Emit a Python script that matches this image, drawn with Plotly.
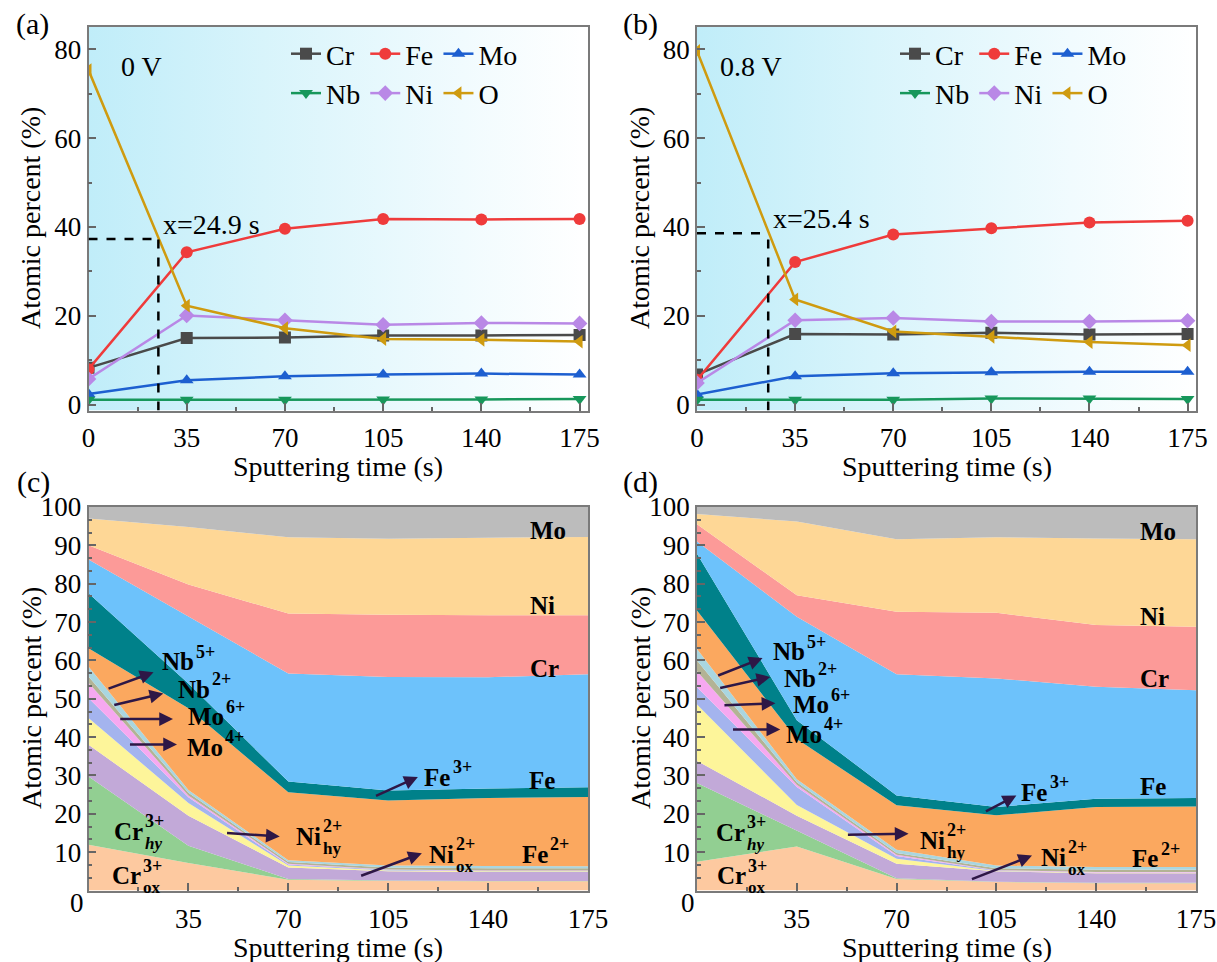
import plotly.graph_objects as go

W, H = 1217, 962
SERIF = "Liberation Serif, Times New Roman, serif"

# ---------------- data ----------------
time_s = [0, 35, 70, 105, 140, 175]

# (a) 0 V : element depth profiles, at.%
a_cr = [8.3, 15.0, 15.1, 15.6, 15.6, 15.7]
a_fe = [8.0, 34.3, 39.6, 41.8, 41.7, 41.8]
a_mo = [2.4, 5.5, 6.4, 6.8, 7.0, 6.8]
a_nb = [1.1, 1.1, 1.1, 1.2, 1.2, 1.3]
a_ni = [5.8, 20.1, 19.0, 18.0, 18.4, 18.3]
a_o = [75.3, 22.3, 17.2, 14.8, 14.6, 14.2]

# (b) 0.8 V
b_cr = [6.8, 15.9, 15.8, 16.2, 15.8, 15.9]
b_fe = [5.6, 32.1, 38.3, 39.7, 41.0, 41.4]
b_mo = [2.3, 6.4, 7.1, 7.3, 7.4, 7.4]
b_nb = [1.1, 1.1, 1.1, 1.4, 1.4, 1.3]
b_ni = [4.9, 19.0, 19.5, 18.7, 18.7, 18.9]
b_o = [79.6, 23.7, 16.5, 15.3, 14.1, 13.4]

# film thickness markers (time, O level)
cross_a = (24.9, 37.3)
cross_b = (25.4, 38.6)

# (c) 0 V : chemical-state fractions, at.% (stacked bottom -> top)
c_cr_ox = [11.9, 7.2, 2.8, 2.5, 2.4, 2.4]
c_cr_hy = [17.8, 4.5, 0.2, 0.1, 0.1, 0.1]
c_ni_ox = [8.3, 7.8, 3.0, 2.4, 2.3, 2.3]
c_ni_hy = [7.0, 3.3, 0.5, 0.2, 0.2, 0.2]
c_mo4 = [5.2, 1.5, 0.3, 0.2, 0.1, 0.1]
c_mo6 = [4.0, 0.5, 0.2, 0.1, 0.1, 0.1]
c_nb2 = [1.6, 0.7, 0.4, 0.5, 0.6, 0.6]
c_nb5 = [2.6, 0.7, 0.5, 0.5, 0.6, 0.5]
c_fe2 = [4.8, 21.3, 17.7, 17.0, 17.7, 18.1]
c_fe3 = [14.3, 6.5, 2.8, 2.6, 2.5, 2.5]
c_fe0 = [8.8, 17.5, 28.2, 29.6, 29.0, 29.5]
c_cr0 = [3.7, 8.3, 15.6, 16.2, 16.2, 15.4]
c_ni0 = [7.0, 15.0, 19.9, 19.8, 20.2, 20.4]
c_mo0 = [3.0, 5.2, 7.9, 8.3, 8.0, 7.8]

# (d) 0.8 V
d_cr_ox = [7.5, 11.5, 3.0, 2.2, 1.9, 1.9]
d_cr_hy = [20.5, 4.0, 0.2, 0.1, 0.1, 0.1]
d_ni_ox = [5.8, 4.0, 3.8, 2.7, 2.5, 2.5]
d_ni_hy = [14.7, 2.8, 1.3, 0.1, 0.1, 0.1]
d_mo4 = [4.5, 4.7, 0.7, 0.1, 0.1, 0.1]
d_mo6 = [4.2, 0.6, 0.3, 0.1, 0.1, 0.1]
d_nb2 = [2.8, 0.6, 0.5, 0.5, 0.6, 0.6]
d_nb5 = [3.0, 0.8, 0.8, 0.7, 0.7, 0.7]
d_fe2 = [10.0, 10.5, 11.6, 13.1, 15.7, 15.8]
d_fe3 = [14.8, 4.9, 2.6, 2.2, 2.1, 2.2]
d_fe0 = [3.2, 27.0, 31.6, 33.5, 29.2, 28.1]
d_cr0 = [4.5, 5.6, 16.3, 17.1, 16.1, 16.6]
d_ni0 = [2.7, 19.2, 18.9, 19.7, 22.6, 22.8]
d_mo0 = [1.8, 3.8, 8.4, 7.9, 8.2, 8.4]

elements = ["Cr", "Fe", "Mo", "Nb", "Ni", "O"]
el_colors = ["#4a4a4a", "#ef3b3b", "#1d5fd0", "#17975b", "#b988e6", "#cf9b10"]
el_symbols = ["square", "circle", "triangle-up", "triangle-down", "diamond", "triangle-left"]

state_names = ["Cr_ox3+", "Cr_hy3+", "Ni_ox2+", "Ni_hy2+", "Mo4+", "Mo6+", "Nb2+", "Nb5+",
               "Fe2+", "Fe3+", "Fe", "Cr", "Ni", "Mo"]
state_colors = ["#fdc9a0", "#92cf92", "#c2a9d8", "#fdf59a", "#a4b4ee", "#f6a8f0", "#b3b395",
                "#a9d6e0", "#fba85f", "#00818a", "#6dc2fb", "#fc9a98", "#fed796", "#bcbcbc"]
c_layers = [c_cr_ox, c_cr_hy, c_ni_ox, c_ni_hy, c_mo4, c_mo6, c_nb2, c_nb5,
            c_fe2, c_fe3, c_fe0, c_cr0, c_ni0, c_mo0]
d_layers = [d_cr_ox, d_cr_hy, d_ni_ox, d_ni_hy, d_mo4, d_mo6, d_nb2, d_nb5,
            d_fe2, d_fe3, d_fe0, d_cr0, d_ni0, d_mo0]

# ---------------- geometry ----------------
def px(x):
    return x / W


def py(y):
    return 1 - y / H


TOP_Y = [-1.3, 85]
TOP_X = [0, 178]
dom_x_left = [px(88.5), px(588)]
dom_x_right = [px(697), px(1196)]
dom_y_top = [py(410.5), py(27)]
dom_y_bot = [py(890.5), py(507)]

fig = go.Figure()

# gradient backdrop of the upper panels
for xa, ya in [("x", "y"), ("x2", "y2")]:
    fig.add_trace(go.Scatter(
        x=[TOP_X[0], TOP_X[1], TOP_X[1], TOP_X[0], TOP_X[0]],
        y=[TOP_Y[0], TOP_Y[0], TOP_Y[1], TOP_Y[1], TOP_Y[0]],
        fill="toself", mode="lines", line=dict(width=0),
        fillgradient=dict(type="horizontal",
                          colorscale=[[0, "#c0edf9"], [0.35, "#d8f4fb"],
                                      [0.75, "#f1fbfe"], [1, "#ffffff"]]),
        hoverinfo="skip", showlegend=False, xaxis=xa, yaxis=ya))

# element profiles
groups = ["g1", "g2", "g3", "g1", "g2", "g3"]
for series, xa, ya, leg, tag in [([a_cr, a_fe, a_mo, a_nb, a_ni, a_o], "x", "y", "legend", "a"),
                                 ([b_cr, b_fe, b_mo, b_nb, b_ni, b_o], "x2", "y2", "legend2", "b")]:
    for name, vals, col, sym, grp in zip(elements, series, el_colors, el_symbols, groups):
        fig.add_trace(go.Scatter(
            x=time_s, y=vals, name=name, mode="lines+markers",
            line=dict(color=col, width=2.5),
            marker=dict(symbol=sym, size=12, color=col),
            legend=leg, legendgroup=tag + grp, xaxis=xa, yaxis=ya))

# stacked chemical-state areas
for layers, xa, ya, sg in [(c_layers, "x3", "y3", "c"), (d_layers, "x4", "y4", "d")]:
    for name, vals, col in zip(state_names, layers, state_colors):
        fig.add_trace(go.Scatter(
            x=time_s, y=vals, name=name, mode="lines", stackgroup=sg,
            line=dict(width=0), fillcolor=col, showlegend=False,
            xaxis=xa, yaxis=ya))

# ---------------- axes ----------------
TICK_FONT = dict(family=SERIF, size=27, color="black")
common = dict(showline=True, linecolor="#7a7a7a", linewidth=1.5, mirror=True,
              showgrid=False, zeroline=False, ticks="inside", ticklen=8, tickwidth=1.5,
              tickcolor="#666", tickfont=TICK_FONT, automargin=False)
minor_x = dict(dtick=17.5, tick0=0, ticks="inside", ticklen=4, tickcolor="#666", showgrid=False)

top_xaxis = dict(common, range=TOP_X, tickvals=[0, 35, 70, 105, 140, 175],
                 minor=minor_x, ticklabelstandoff=2)
top_yaxis = dict(common, range=TOP_Y, tickvals=[0, 20, 40, 60, 80],
                 minor=dict(dtick=10, tick0=0, ticks="inside", ticklen=4, tickcolor="#666",
                            showgrid=False))
bot_xaxis = dict(common, range=[0, 175], tickvals=[35, 70, 105, 140, 175],
                 minor=minor_x, ticklabelstandoff=3)
bot_yaxis = dict(common, range=[0, 100], tickvals=list(range(10, 101, 10)),
                 minor=dict(dtick=10 / 3, tick0=0, ticks="inside", ticklen=4, tickcolor="#666",
                            showgrid=False))

LEG_FONT = dict(family=SERIF, size=28, color="black")
fig.update_layout(
    template="none",
    width=W, height=H, margin=dict(l=0, r=0, t=0, b=0, autoexpand=False), autosize=False,
    paper_bgcolor="white", plot_bgcolor="white",
    font=dict(family=SERIF, color="black"),
    xaxis=dict(top_xaxis, domain=dom_x_left, anchor="y"),
    yaxis=dict(top_yaxis, domain=dom_y_top, anchor="x"),
    xaxis2=dict(top_xaxis, domain=dom_x_right, anchor="y2"),
    yaxis2=dict(top_yaxis, domain=dom_y_top, anchor="x2"),
    xaxis3=dict(bot_xaxis, domain=dom_x_left, anchor="y3"),
    yaxis3=dict(bot_yaxis, domain=dom_y_bot, anchor="x3"),
    xaxis4=dict(bot_xaxis, domain=dom_x_right, anchor="y4"),
    yaxis4=dict(bot_yaxis, domain=dom_y_bot, anchor="x4"),
    legend=dict(x=px(286), y=py(29), xanchor="left", yanchor="top", orientation="h",
                traceorder="grouped", font=LEG_FONT, bgcolor="rgba(0,0,0,0)",
                borderwidth=0, itemwidth=30),
    legend2=dict(x=px(895), y=py(29), xanchor="left", yanchor="top", orientation="h",
                 traceorder="grouped", font=LEG_FONT, bgcolor="rgba(0,0,0,0)",
                 borderwidth=0, itemwidth=30),
    showlegend=True,
)

# ---------------- dashed guides ----------------
shapes = []
for (tx, ty), xr, yr in [(cross_a, "x", "y"), (cross_b, "x2", "y2")]:
    dash = dict(color="black", width=2.5, dash="dash")
    shapes.append(dict(type="line", xref=xr, yref=yr, x0=0, x1=tx, y0=ty, y1=ty, line=dash))
    shapes.append(dict(type="line", xref=xr, yref=yr, x0=tx, x1=tx, y0=TOP_Y[0], y1=ty, line=dash))
fig.update_layout(shapes=shapes)

# ---------------- text ----------------
anns = []


def paper_text(x, y, text, size=28, angle=0):
    anns.append(dict(x=px(x), y=py(y), xref="paper", yref="paper", text=text,
                     showarrow=False, textangle=angle, xanchor="center", yanchor="middle",
                     font=dict(family=SERIF, size=size, color="black")))


for cx in (31, 640):
    paper_text(cx, 218, "Atomic percent (%)", angle=-90)
    paper_text(cx, 698, "Atomic percent (%)", angle=-90)
for cx in (338, 946.5):
    paper_text(cx, 466, "Sputtering time (s)")
    paper_text(cx, 947, "Sputtering time (s)")
paper_text(32, 24, "(a)", size=30)
paper_text(640, 24, "(b)", size=30)
paper_text(33, 482, "(c)", size=30)
paper_text(640, 482, "(d)", size=30)
# shared origin label of the lower panels
paper_text(77, 903, "0", size=27)
paper_text(688, 903, "0", size=27)

for (tx, ty), xr, yr, volt, vx in [(cross_a, "x", "y", "0 V", 11.0),
                                   (cross_b, "x2", "y2", "0.8 V", 7.5)]:
    anns.append(dict(x=vx, y=76.2, xref=xr, yref=yr, text=volt, showarrow=False,
                     xanchor="left", yanchor="middle",
                     font=dict(family=SERIF, size=28, color="black")))
    anns.append(dict(x=tx + 1.0, y=ty + 3.2, xref=xr, yref=yr, text=f"x={tx} s",
                     showarrow=False, xanchor="left", yanchor="middle",
                     font=dict(family=SERIF, size=28, color="black")))

# Times-Bold advance widths (em) for label layout
CW = {"N": 0.722, "b": 0.556, "M": 0.944, "o": 0.5, "i": 0.278, "F": 0.611,
      "e": 0.444, "C": 0.722, "r": 0.444}
LBL = 25
SMALL = 17


def ion(xr, yr, x, y, base, sup=None, sub=None, italic_sub=False):
    w = sum(CW[ch] for ch in base) * LBL
    anns.append(dict(x=x, y=y, xref=xr, yref=yr, text=f"<b>{base}</b>", showarrow=False,
                     xanchor="left", yanchor="middle",
                     font=dict(family=SERIF, size=LBL, color="black")))
    if sup:
        anns.append(dict(x=x, y=y, xref=xr, yref=yr, text=f"<b>{sup}</b>", showarrow=False,
                         xanchor="left", yanchor="middle", xshift=w + 2, yshift=10,
                         font=dict(family=SERIF, size=SMALL + 1, color="black")))
    if sub:
        t = f"<b><i>{sub}</i></b>" if italic_sub else f"<b>{sub}</b>"
        anns.append(dict(x=x, y=y, xref=xr, yref=yr, text=t, showarrow=False,
                         xanchor="left", yanchor="middle", xshift=w + 2, yshift=-12,
                         font=dict(family=SERIF, size=SMALL, color="black")))


ARROW = "#2e1746"


def arrow(xr, yr, tail, head):
    anns.append(dict(x=head[0], y=head[1], ax=tail[0], ay=tail[1], xref=xr, yref=yr,
                     axref=xr, ayref=yr, text="", showarrow=True, arrowhead=2,
                     arrowsize=1.1, arrowwidth=2.5, arrowcolor=ARROW))


# panel (c)
xr, yr = "x3", "y3"
ion(xr, yr, 154.0, 94.0, "Mo")
ion(xr, yr, 154.0, 74.4, "Ni")
ion(xr, yr, 154.0, 58.0, "Cr")
ion(xr, yr, 153.5, 28.7, "Fe")
ion(xr, yr, 151.0, 9.4, "Fe", sup="2+")
ion(xr, yr, 25.0, 59.6, "Nb", sup="5+")
ion(xr, yr, 30.6, 52.5, "Nb", sup="2+")
ion(xr, yr, 34.1, 45.3, "Mo", sup="6+")
ion(xr, yr, 33.8, 37.4, "Mo", sup="4+")
ion(xr, yr, 117.0, 29.5, "Fe", sup="3+")
ion(xr, yr, 72.0, 14.2, "Ni", sup="2+", sub="hy")
ion(xr, yr, 118.5, 9.5, "Ni", sup="2+", sub="ox")
ion(xr, yr, 8.2, 15.4, "Cr", sup="3+", sub="hy", italic_sub=True)
ion(xr, yr, 7.6, 3.8, "Cr", sup="3+", sub="ox")
arrow(xr, yr, (6.5, 52.5), (22.8, 56.9))
arrow(xr, yr, (8.5, 48.3), (26.2, 51.4))
arrow(xr, yr, (10.6, 44.7), (29.6, 44.7))
arrow(xr, yr, (14.0, 38.1), (31.0, 38.1))
arrow(xr, yr, (48.0, 15.0), (67.0, 14.1))
arrow(xr, yr, (95.0, 3.7), (116.8, 9.7))
arrow(xr, yr, (100.2, 24.5), (115.4, 29.6))

# panel (d)
xr, yr = "x4", "y4"
ion(xr, yr, 154.7, 93.7, "Mo")
ion(xr, yr, 154.7, 71.5, "Ni")
ion(xr, yr, 154.7, 55.4, "Cr")
ion(xr, yr, 154.7, 27.0, "Fe")
ion(xr, yr, 152.0, 8.3, "Fe", sup="2+")
ion(xr, yr, 26.0, 62.2, "Nb", sup="5+")
ion(xr, yr, 29.8, 55.2, "Nb", sup="2+")
ion(xr, yr, 33.0, 48.4, "Mo", sup="6+")
ion(xr, yr, 30.5, 40.8, "Mo", sup="4+")
ion(xr, yr, 113.0, 25.6, "Fe", sup="3+")
ion(xr, yr, 77.5, 13.1, "Ni", sup="2+", sub="hy")
ion(xr, yr, 120.0, 8.7, "Ni", sup="2+", sub="ox")
ion(xr, yr, 6.0, 15.2, "Cr", sup="3+", sub="hy", italic_sub=True)
ion(xr, yr, 6.3, 3.8, "Cr", sup="3+", sub="ox")
arrow(xr, yr, (6.9, 55.9), (23.0, 60.6))
arrow(xr, yr, (7.6, 52.7), (25.7, 55.7))
arrow(xr, yr, (9.1, 48.3), (27.5, 48.8))
arrow(xr, yr, (12.1, 42.0), (29.2, 42.0))
arrow(xr, yr, (100.8, 20.4), (112.0, 24.8))
arrow(xr, yr, (52.4, 14.5), (74.2, 14.8))
arrow(xr, yr, (95.9, 2.8), (117.5, 9.1))

fig.update_layout(annotations=anns)
fig.write_html("out.html")
